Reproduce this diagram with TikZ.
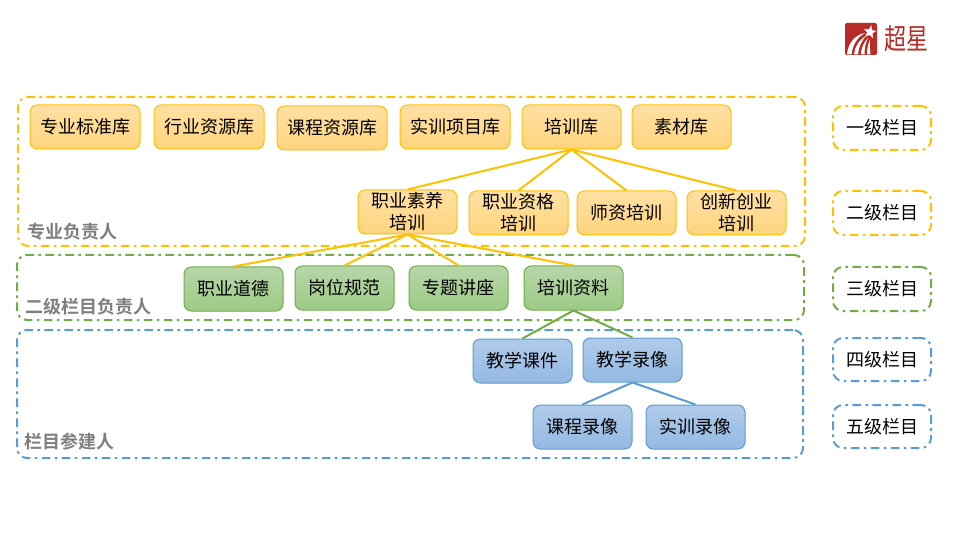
\documentclass[tikz,border=0pt]{standalone}
\usepackage{fontspec}
\setmainfont{Noto Sans CJK SC}
\newfontfamily\boldcjk{Noto Sans CJK SC Bold}
\definecolor{yb}{HTML}{FFC000}
\definecolor{gb}{HTML}{70AD47}
\definecolor{bb}{HTML}{5B9BD5}
\definecolor{gt}{HTML}{7F7F7F}
\definecolor{logored}{HTML}{B92B27}
\definecolor{ytop}{HTML}{FFE0A3}
\definecolor{ybot}{HTML}{FFD47F}
\definecolor{gtop}{HTML}{B7D6A9}
\definecolor{gbot}{HTML}{9CCB85}
\definecolor{btop}{HTML}{B0CBEA}
\definecolor{bbot}{HTML}{94B9E3}
\tikzset{
  x=0.75pt,y=-0.75pt,
  base/.style={rectangle,rounded corners=5.5pt,inner sep=0pt,line width=0.75pt,minimum height=33pt,
    align=center,font=\fontsize{13.5pt}{16.5pt}\selectfont,text=black},
  ybox/.style={base,draw=yb,top color=ytop,bottom color=ybot,minimum width=74.25pt},
  ywide/.style={ybox,minimum width=82.5pt},
  gbox/.style={base,draw=gb,top color=gtop,bottom color=gbot,minimum width=74.25pt},
  bbox/.style={base,draw=bb,top color=btop,bottom color=bbot,minimum width=74.25pt},
  frame/.style={rectangle,rounded corners=7.5pt,line width=1.5pt,inner sep=0pt,
    dash pattern=on 6.5pt off 3.25pt on 2pt off 3.25pt},
  yf/.style={frame,draw=yb}, gf/.style={frame,draw=gb}, bf/.style={frame,draw=bb},
  legend/.style={font=\fontsize{13.5pt}{16.5pt}\selectfont,minimum width=73.5pt,minimum height=33pt},
  role/.style={font=\boldcjk\fontsize{13.5pt}{16pt}\selectfont,text=gt,inner sep=0pt,anchor=west},
  ylink/.style={draw=yb,line width=1.5pt},
  glink/.style={draw=gb,line width=1.5pt},
  blink/.style={draw=bb,line width=1.5pt},
}
\begin{document}
\begin{tikzpicture}
\useasboundingbox[fill=white] (0,0) rectangle (960,538);
% outer frames
\node[yf,minimum width=590.25pt,minimum height=111.75pt] (fy) at (411.5,171.5) {};
\node[gf,minimum width=590.25pt,minimum height=48.75pt] (fg) at (410.5,287.5) {};
\node[bf,minimum width=589.5pt,minimum height=96pt] (fb) at (410,394) {};
% level 1
\node[ywide] (a1) at (85,127) {专业标准库};
\node[ywide] (a2) at (209,127) {行业资源库};
\node[ywide] (a3) at (332,128) {课程资源库};
\node[ywide] (a4) at (455,127) {实训项目库};
\node[ybox] (a5) at (571.5,127) {培训库};
\node[ybox] (a6) at (681.5,127) {素材库};
% level 2
\node[ybox] (b1) at (407.5,212) {职业素养\\培训};
\node[ybox] (b2) at (518.5,213) {职业资格\\培训};
\node[ybox] (b3) at (626.5,213) {师资培训};
\node[ybox] (b4) at (736.5,213) {创新创业\\培训};
% level 3
\node[gbox] (c1) at (233.5,289) {职业道德};
\node[gbox] (c2) at (344.5,288) {岗位规范};
\node[gbox] (c3) at (458.5,288) {专题讲座};
\node[gbox] (c4) at (573.5,288) {培训资料};
% level 4
\node[bbox] (d1) at (522.5,361) {教学课件};
\node[bbox] (d2) at (632.5,360) {教学录像};
% level 5
\node[bbox] (e1) at (582.5,427) {课程录像};
\node[bbox] (e2) at (695.5,427) {实训录像};
% connectors
\foreach \t in {b1,b2,b3,b4} \draw[ylink] (a5.south) -- (\t.north);
\foreach \t in {c1,c2,c3,c4} \draw[ylink] (b1.south) -- (\t.north);
\foreach \t in {d1,d2} \draw[glink] (c4.south) -- (\t.north);
\foreach \t in {e1,e2} \draw[blink] (d2.south) -- (\t.north);
% role labels
\node[role] (r1) at (27,231.5) {专业负责人};
\node[role] (r2) at (25,306.5) {二级栏目负责人};
\node[role] (r3) at (24,442) {栏目参建人};
% legend
\node[yf,legend] (l1) at (882,128) {一级栏目};
\node[yf,legend] (l2) at (882,213) {二级栏目};
\node[gf,legend] (l3) at (882,289) {三级栏目};
\node[bf,legend,minimum height=32.25pt] (l4) at (882,359.5) {四级栏目};
\node[bf,legend,minimum height=32.25pt] (l5) at (882,426.5) {五级栏目};
% logo
\fill[logored,rounded corners=1.5pt] (845,23) rectangle (877,55);
\fill[white] (871.2,25.1) -- (868.8,29.5) -- (863.8,28.7) -- (867.2,32.4) -- (865,36.9) -- (869.5,34.8) -- (873.1,38.3) -- (872.5,33.3) -- (876.4,31) -- (872,30.1) -- cycle;
\fill[white] (847,54.5) .. controls (848,44) and (854,35) .. (865,33) .. controls (857,37.5) and (852.5,45) .. (851.5,54.5) -- cycle;
\fill[white] (854,54.5) .. controls (854.5,47) and (859,40) .. (866,36) .. controls (861.5,41) and (858.5,47) .. (858,54.5) -- cycle;
\fill[white] (861,54.5) .. controls (861,48) and (864,42) .. (868,38) .. controls (865.5,43) and (864.5,48) .. (864.5,54.5) -- cycle;
\fill[white] (867,54.5) .. controls (867,49) and (868,44) .. (870,39.5) .. controls (869.5,44) and (870,49) .. (870.5,54.5) -- cycle;
\node[font=\fontsize{16.5pt}{17pt}\selectfont,text=logored,inner sep=0pt] (logo) at (906,39) {\scalebox{1}[1.3]{超星}};
\end{tikzpicture}
\end{document}
